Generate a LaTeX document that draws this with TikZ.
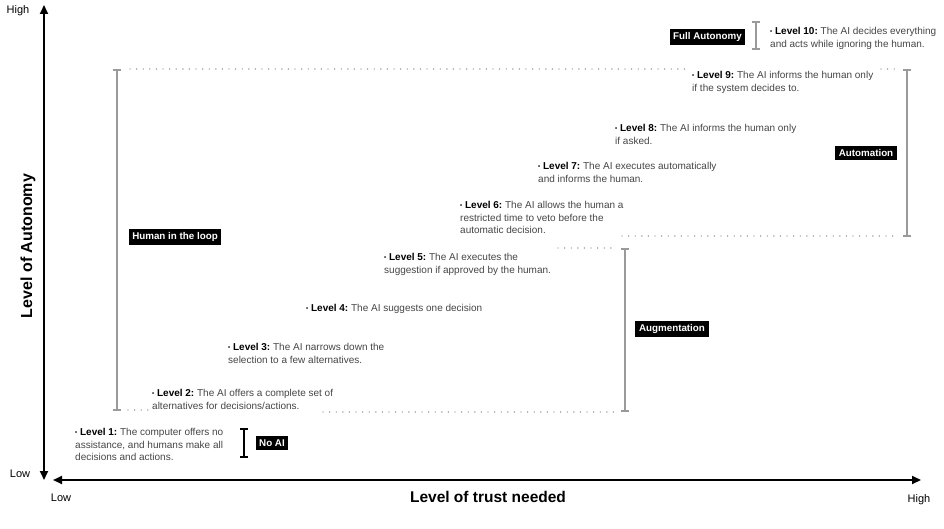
\documentclass[tikz,border=0pt]{standalone}
\usepackage{fontspec}
\setmainfont{Liberation Sans}
\usetikzlibrary{arrows.meta,positioning}
\definecolor{textgray}{HTML}{454545}
\definecolor{bargray}{HTML}{9A9A9A}
\definecolor{dotgray}{HTML}{7E7E7E}
\frenchspacing
\newcommand{\lvl}[1]{{\color{black}\bfseries{\fontsize{6}{6}\selectfont\raisebox{0.9pt}{\textbullet}} Level #1:}}

\begin{document}
\begin{tikzpicture}[x=1pt,y=-1pt,>={Triangle[length=9pt,width=8pt]},
                    font=\fontsize{10}{12.6}\selectfont,node distance=8pt]
  \tikzstyle{level}=[anchor=north west,inner sep=0pt,align=left,text=textgray]
  \tikzstyle{tag}=[fill=black,text=white,inner sep=3.6pt,
                   font=\fontsize{9.8}{11}\selectfont\bfseries]
  \tikzstyle{bracket}=[draw=bargray,line width=1.8pt,{Bar[width=8pt]}-{Bar[width=8pt]}]
  \tikzstyle{guide}=[draw=dotgray,line width=1.4pt,line cap=round,dash pattern=on 0pt off 6.6pt]
  \tikzstyle{axis}=[line width=2pt,<->]

  \useasboundingbox (0,0) rectangle (944,529);

  % axes
  \coordinate (ytop) at (44,5);
  \coordinate (ybot) at (44,480);
  \coordinate (xleft) at (53,480);
  \coordinate (xright) at (921,480);
  \draw[axis] (ybot) -- (ytop);
  \draw[axis] (xleft) -- (xright);
  \node (yhigh) at (18,11) {\fontsize{11}{12}\selectfont High};
  \node (ylow) at (20,474) {\fontsize{11}{12}\selectfont Low};
  \node (xlow) at (61,498) {\fontsize{11}{12}\selectfont Low};
  \node (xhigh) at (919,500) {\fontsize{11}{12}\selectfont High};
  \node[rotate=90,font=\fontsize{16}{18}\selectfont\bfseries] (ylabel) at (28,246) {Level of Autonomy};
  \node[font=\fontsize{15.5}{18}\selectfont\bfseries] (xlabel) at (488,497) {Level of trust needed};

  % levels
  \node[level] (L1) at (75,428) {\lvl{1} The computer offers no\\assistance, and humans make all\\decisions and actions.};
  \node[level] (L2) at (152,389) {\lvl{2} The AI offers a complete set of\\alternatives for decisions/actions.};
  \node[level] (L3) at (228,343) {\lvl{3} The AI narrows down the\\selection to a few alternatives.};
  \node[level] (L4) at (306,304) {\lvl{4} The AI suggests one decision};
  \node[level] (L5) at (384,253) {\lvl{5} The AI executes the\\suggestion if approved by the human.};
  \node[level] (L6) at (460,201) {\lvl{6} The AI allows the human a\\restricted time to veto before the\\automatic decision.};
  \node[level] (L7) at (538,162) {\lvl{7} The AI executes automatically\\and informs the human.};
  \node[level] (L8) at (615,124) {\lvl{8} The AI informs the human only\\if asked.};
  \node[level] (L9) at (692,71) {\lvl{9} The AI informs the human only\\if the system decides to.};
  \node[level] (L10) at (770,27) {\lvl{10} The AI decides everything\\and acts while ignoring the human.};

  % brackets
  \coordinate (noaitop) at (244,428);
  \coordinate (noaibot) at (244,458);
  \coordinate (hiltop) at (117,69);
  \coordinate (hilbot) at (117,411);
  \coordinate (augtop) at (625,248);
  \coordinate (augbot) at (625,412);
  \coordinate (autotop) at (907,69);
  \coordinate (autobot) at (907,237);
  \coordinate (fulltop) at (756,21);
  \coordinate (fullbot) at (756,50);
  \draw[bracket,draw=black] (noaitop) -- (noaibot);
  \draw[bracket] (hiltop) -- (hilbot);
  \draw[bracket] (augtop) -- (augbot);
  \draw[bracket] (autotop) -- (autobot);
  \draw[bracket] (fulltop) -- (fullbot);

  % dotted guides
  \coordinate (g1a) at (130,69);   \coordinate (g1b) at (686,69);
  \coordinate (g2a) at (881,69);   \coordinate (g2b) at (898,69);
  \coordinate (g3a) at (128,410);  \coordinate (g3b) at (149,410);
  \coordinate (g4a) at (323,412);  \coordinate (g4b) at (614,412);
  \coordinate (g5a) at (558,248);  \coordinate (g5b) at (614,248);
  \coordinate (g6a) at (622,236);  \coordinate (g6b) at (898,236);
  \draw[guide] (g1a) -- (g1b);
  \draw[guide] (g2a) -- (g2b);
  \draw[guide] (g3a) -- (g3b);
  \draw[guide] (g4a) -- (g4b);
  \draw[guide] (g5a) -- (g5b);
  \draw[guide] (g6a) -- (g6b);

  % tags
  \node[tag] (noai) at (272,443) {No AI};
  \node[tag] (hil) at (175,237) {Human in the loop};
  \node[tag] (aug) at (672,329) {Augmentation};
  \node[tag] (auto) at (866,153) {Automation};
  \node[tag] (full) at (707.5,37) {Full Autonomy};
\end{tikzpicture}
\end{document}
